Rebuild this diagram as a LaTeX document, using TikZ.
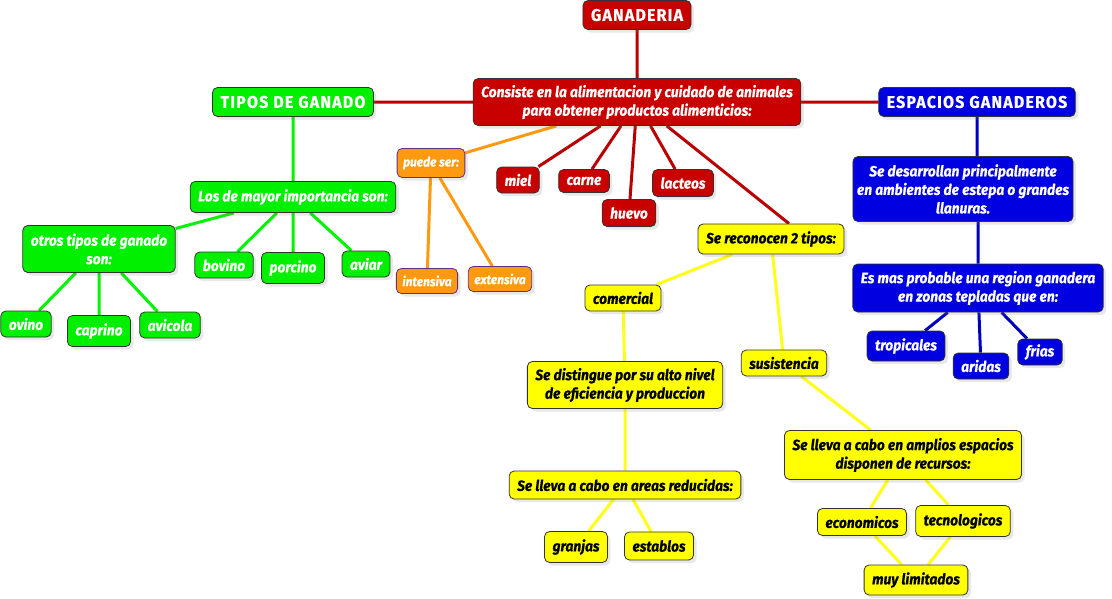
\documentclass[tikz,border=0pt]{standalone}
\usepackage{fontspec}
\setmainfont{Fira Sans}[FakeStretch=0.92,BoldItalicFeatures={FakeBold=0.5}]
\newfontfamily\titlefont{Fira Sans}[FakeStretch=0.94,LetterSpace=7,BoldFeatures={FakeBold=0.6}]
\usetikzlibrary{positioning,shadows,backgrounds}
\definecolor{ganred}{HTML}{C80000}
\definecolor{gangreen}{HTML}{00F000}
\definecolor{ganblue}{HTML}{0000E0}
\definecolor{ganyellow}{HTML}{FFFF00}
\definecolor{ganorange}{HTML}{FF9A10}
\definecolor{ganpurple}{HTML}{60308A}
\tikzset{
    box/.style={rectangle,rounded corners=5pt,draw=black!80,thick,align=center,
        inner xsep=8pt,inner ysep=3pt,minimum height=26pt,
        font=\fontsize{15}{18.5}\selectfont\bfseries\itshape,
        drop shadow={opacity=0.18,shadow xshift=3pt,shadow yshift=-3pt}},
    redbox/.style={box,fill=ganred,text=white},
    greenbox/.style={box,fill=gangreen,text=white},
    bluebox/.style={box,fill=ganblue,text=white},
    yellowbox/.style={box,fill=ganyellow,text=black},
    orangebox/.style={box,fill=ganorange,draw=ganpurple,text=white,
        font=\fontsize{13}{16}\selectfont\bfseries\itshape,minimum height=25pt,inner xsep=6pt},
    title/.style={font=\fontsize{17}{20}\selectfont\titlefont\bfseries,minimum height=29pt},
    link/.style={line width=3pt},
}

\begin{document}
\begin{tikzpicture}[x=1pt,y=-1pt,on grid]
    \useasboundingbox (0,0) rectangle (1112,598);
    % centro
    \node[redbox,minimum height=47pt] (main) at (637,102)
        {Consiste en la alimentacion y cuidado de animales\\para obtener productos alimenticios:};
    \node[redbox,title,above=87pt of main] (gan) {GANADERIA};
    \node[greenbox,title,left=344pt of main] (tipos) {TIPOS DE GANADO};
    \node[bluebox,title,right=340pt of main] (esp) {ESPACIOS GANADEROS};

    % tipos de ganado
    \node[greenbox,below=95pt of tipos,minimum height=31pt] (mayor) {Los de mayor importancia son:};
    \node[greenbox,below left=52pt and 194pt of mayor,minimum height=47pt] (otros) {otros tipos de ganado\\son:};
    \node[greenbox,below left=68pt and 69pt of mayor] (bovino) {bovino};
    \node[greenbox,below=71pt of mayor,minimum height=31pt] (porcino) {porcino};
    \node[greenbox,below right=67pt and 73pt of mayor] (aviar) {aviar};
    \node[greenbox,below left=75pt and 73pt of otros] (ovino) {ovino};
    \node[greenbox,below=82pt of otros,minimum height=31pt] (caprino) {caprino};
    \node[greenbox,below right=76pt and 71pt of otros] (avicola) {avicola};

    % productos
    \node[orangebox,below left=61pt and 206pt of main,minimum height=29pt] (puede) {puede ser:};
    \node[orangebox,below left=118pt and 4pt of puede] (intensiva) {intensiva};
    \node[orangebox,below right=116pt and 69pt of puede] (extensiva) {extensiva};
    \node[redbox,below left=78pt and 119pt of main] (miel) {miel};
    \node[redbox,below left=79pt and 53pt of main,minimum height=23pt] (carne) {carne};
    \node[redbox,below left=111pt and 8pt of main,minimum height=27pt] (huevo) {huevo};
    \node[redbox,below right=81pt and 46pt of main,minimum height=27pt] (lacteos) {lacteos};

    % tipos de ganaderia
    \node[yellowbox,below right=137pt and 134pt of main,minimum height=30pt] (reco) {Se reconocen 2 tipos:};
    \node[yellowbox,below left=59pt and 148pt of reco] (comercial) {comercial};
    \node[yellowbox,below right=124pt and 13pt of reco] (susist) {susistencia};
    \node[yellowbox,below=87pt of comercial,minimum height=47pt,xshift=2pt] (distingue)
        {Se distingue por su alto nivel\\de eficiencia y produccion};
    \node[yellowbox,below=100pt of distingue,minimum height=28pt] (reducidas) {Se lleva a cabo en areas reducidas:};
    \node[yellowbox,below left=62pt and 49pt of reducidas,minimum height=31pt] (granjas) {granjas};
    \node[yellowbox,below right=61pt and 34pt of reducidas,minimum height=28pt] (establos) {establos};
    \node[yellowbox,below right=92pt and 119pt of susist,minimum height=49pt] (amplios)
        {Se lleva a cabo en amplios espacios\\disponen de recursos:};
    \node[yellowbox,below left=67pt and 41pt of amplios,minimum height=27pt] (economicos) {economicos};
    \node[yellowbox,below right=66pt and 60pt of amplios,minimum height=31pt] (tecno) {tecnologicos};
    \node[yellowbox,below right=58pt and 54pt of economicos,minimum height=30pt] (limitados) {muy limitados};

    % espacios
    \node[bluebox,below left=87pt and 14pt of esp,minimum height=65pt,inner xsep=4pt] (desarrollan)
        {Se desarrollan principalmente\\en ambientes de estepa o grandes\\llanuras.};
    \node[bluebox,below right=99pt and 15pt of desarrollan,minimum height=48pt] (probable)
        {Es mas probable una region ganadera\\en zonas tepladas que en:};
    \node[bluebox,below left=58pt and 72pt of probable,minimum height=30pt] (tropicales) {tropicales};
    \node[bluebox,below right=78pt and 3pt of probable] (aridas) {aridas};
    \node[bluebox,below right=64pt and 62pt of probable] (frias) {frias};

    \begin{scope}[on background layer]
        \draw[link,ganred!92!black] (main) -- (gan) (main) -- (tipos) (main) -- (esp)
            (main) -- (miel) (main) -- (carne) (main) -- (huevo) (main) -- (lacteos)
            (main) -- ([xshift=18pt]reco.north);
        \draw[link,ganorange] (main) -- (puede) (puede) -- (intensiva) (puede) -- (extensiva);
        \draw[link,gangreen!80!green] (tipos) -- (mayor) (mayor) -- (otros) (mayor) -- (bovino)
            (mayor) -- (porcino) (mayor) -- (aviar)
            (otros) -- (ovino) (otros) -- (caprino) (otros) -- (avicola);
        \draw[link,ganyellow!90!white] (reco) -- (comercial) (reco) -- (susist)
            (comercial) -- (distingue) (distingue) -- (reducidas)
            (reducidas) -- (granjas) (reducidas) -- (establos)
            (susist) -- (amplios) (amplios) -- (economicos) (amplios) -- (tecno)
            (economicos) -- (limitados) (tecno) -- (limitados);
        \draw[link,ganblue!85!black] (esp.south) -- (esp.south |- desarrollan.north)
            (probable.north) -- (probable.north |- desarrollan.south)
            (probable) -- (tropicales) (probable) -- (aridas) (probable) -- (frias);
    \end{scope}
\end{tikzpicture}
\end{document}
